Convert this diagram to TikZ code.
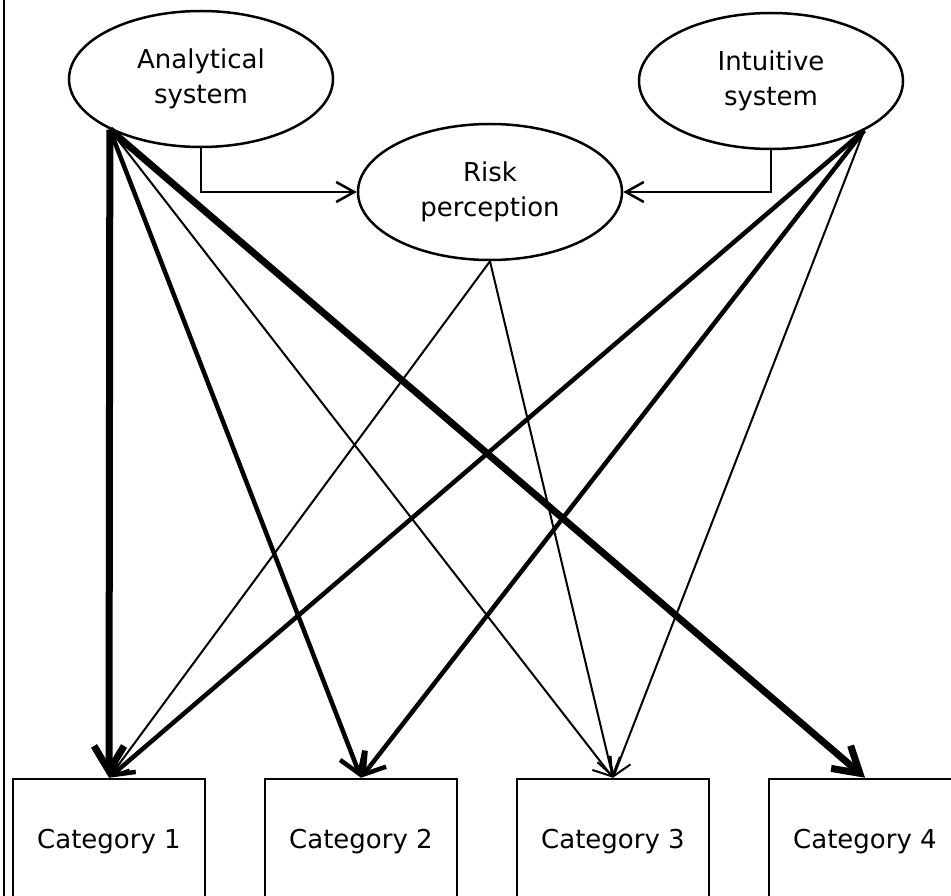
\documentclass[tikz,border=0pt]{standalone}
\usepackage{fontspec}
\setmainfont{DejaVu Sans}
\usetikzlibrary{shapes.geometric,arrows.meta,positioning}

\begin{document}
\begin{tikzpicture}[x=1pt, y=-1pt, node distance=252pt,
      font=\fontsize{26}{35}\selectfont,
      sys/.style={draw, ellipse, line width=2.5pt, minimum width=264pt, minimum height=136pt, inner sep=0pt, align=center},
      cat/.style={draw, rectangle, line width=2.5pt, minimum width=192pt, text height=19pt, text depth=40pt, inner ysep=50pt},
      thinarr/.style={line width=2pt, -{Straight Barb[length=17pt, width=23pt]}},
      thickarr/.style={line width=4.5pt, -{Straight Barb[length=20pt, width=26pt]}},
      heavyarr/.style={line width=7pt, -{Straight Barb[length=25pt, width=30pt]}},
      feed/.style={line width=2.5pt, -{Straight Barb[length=18pt, width=20pt]}}]
    \useasboundingbox (0,0) rectangle (951,896);
    \clip (0,0) rectangle (951,896);
    \draw[line width=2.5pt] (4,0) -- (4,896);

    \node[sys] (ana) at (201,79) {Analytical\\system};
    \node[sys] (intu) at (771,81) {Intuitive\\system};
    \node[sys] (risk) at (490,192) {Risk\\perception};

    \node[cat] (cat1) at (109,858.5) {Category 1};
    \node[cat, right of=cat1] (cat2) {Category 2};
    \node[cat, right of=cat2] (cat3) {Category 3};
    \node[cat, right of=cat3] (cat4) {Category 4};

    \coordinate (anaout) at (ana.209);
    \coordinate (intuout) at (intu.-28);

    \draw[feed] (ana.south) |- (risk.west);
    \draw[feed] (intu.south) |- (risk.east);

    \draw[heavyarr] (anaout) -- (cat1.north);
    \draw[thickarr] (anaout) -- (cat2.north);
    \draw[thinarr] (anaout) -- (cat3.north);
    \draw[heavyarr] (anaout) -- (cat4.north);
    \draw[thickarr] (intuout) -- (cat1.north);
    \draw[thickarr] (intuout) -- (cat2.north);
    \draw[thinarr] (intuout) -- (cat3.north);
    \draw[thinarr] (risk.south) -- (cat1.north);
    \draw[thinarr] (risk.south) -- (cat3.north);
  \end{tikzpicture}
\end{document}
